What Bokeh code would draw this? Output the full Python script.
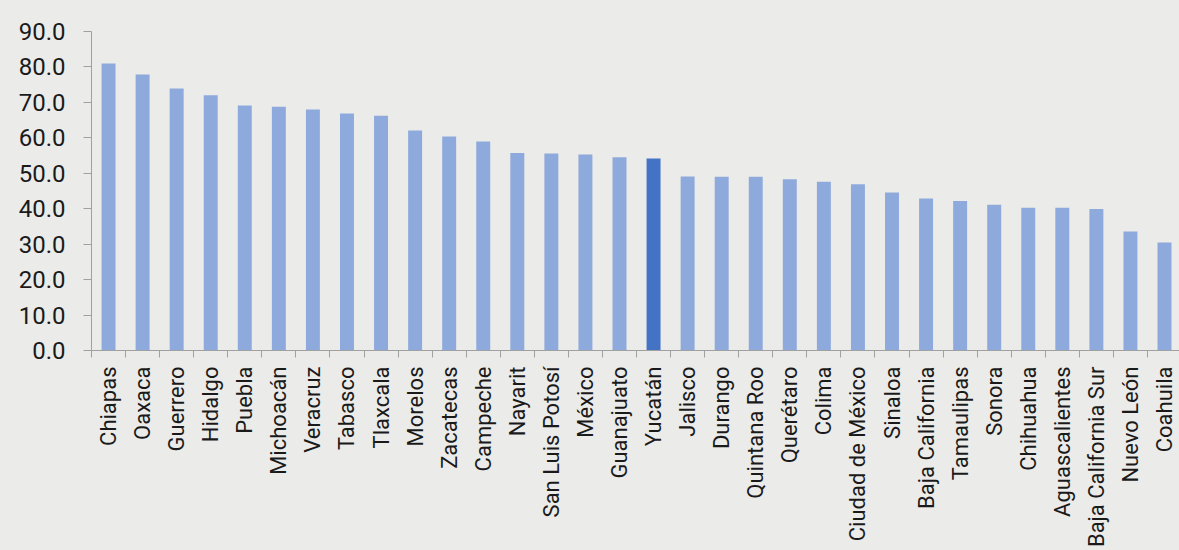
from bokeh.plotting import figure
from bokeh.models import ColumnDataSource, FixedTicker, NumeralTickFormatter, Range1d
from bokeh.embed import file_html
from bokeh.resources import INLINE
import math

states = ["Chiapas", "Oaxaca", "Guerrero", "Hidalgo", "Puebla", "Michoacán", "Veracruz",
          "Tabasco", "Tlaxcala", "Morelos", "Zacatecas", "Campeche", "Nayarit",
          "San Luis Potosí", "México", "Guanajuato", "Yucatán", "Jalisco", "Durango",
          "Quintana Roo", "Querétaro", "Colima", "Ciudad de México", "Sinaloa",
          "Baja California", "Tamaulipas", "Sonora", "Chihuahua", "Aguascalientes",
          "Baja California Sur", "Nuevo León", "Coahuila"]
values = [81.0, 77.9, 73.9, 72.0, 69.1, 68.8, 68.0, 66.9, 66.2, 62.1, 60.4, 59.0, 55.7,
          55.6, 55.3, 54.5, 54.2, 49.1, 49.0, 49.0, 48.3, 47.6, 46.9, 44.6, 42.9, 42.2,
          41.1, 40.3, 40.3, 39.9, 33.6, 30.5]
highlight = "Yucatán"
y_ticks = [0, 10, 20, 30, 40, 50, 60, 70, 80, 90]

BASE = "#8eaadc"
HIGH = "#4472c4"
BG = "#ebebe9"

n = len(states)
xs = [i + 0.5 for i in range(n)]
colors = [HIGH if s == highlight else BASE for s in states]
src = ColumnDataSource(dict(x=xs, top=values, color=colors, name=states))

p = figure(frame_width=1088, frame_height=319, output_backend="svg", toolbar_location=None,
           x_range=Range1d(0, 31.94), y_range=Range1d(0, 90),
           min_border_left=91, min_border_top=31, min_border_right=0, min_border_bottom=0,
           background_fill_color=BG, border_fill_color=BG, outline_line_color=None)

p.vbar(x="x", top="top", width=0.41, bottom=0, color="color", source=src, line_color=None)

p.xgrid.visible = False
p.ygrid.visible = False

FONT = "Roboto"
p.yaxis.ticker = FixedTicker(ticks=y_ticks)
p.yaxis.formatter = NumeralTickFormatter(format="0.0")
p.yaxis.major_label_text_font = FONT
p.yaxis.major_label_text_font_size = "24px"
p.yaxis.major_label_text_color = "#1a1a1a"
p.yaxis.axis_line_color = "#a0a0a0"
p.yaxis.major_tick_line_color = "#a0a0a0"
p.yaxis.major_tick_out = 8
p.yaxis.major_tick_in = 0
p.yaxis.minor_tick_line_color = None
p.yaxis.major_label_standoff = 18

p.xaxis.ticker = FixedTicker(ticks=xs, minor_ticks=list(range(n)))
p.xaxis.major_label_overrides = {x: s for x, s in zip(xs, states)}
p.xaxis.major_label_orientation = math.pi / 2
p.xaxis.major_label_text_font = FONT
p.xaxis.major_label_text_font_size = "22px"
p.xaxis.major_label_text_color = "#1a1a1a"
p.xaxis.axis_line_color = "#a0a0a0"
p.xaxis.major_tick_line_color = None
p.xaxis.minor_tick_line_color = "#a0a0a0"
p.xaxis.minor_tick_out = 7
p.xaxis.minor_tick_in = 0
p.xaxis.major_label_standoff = 9

html = file_html(p, INLINE)
html = html.replace("<head>", "<head><style>html,body{margin:0;padding:0;overflow:hidden;background:%s}</style>" % BG, 1)
open("out.html", "w").write(html)
